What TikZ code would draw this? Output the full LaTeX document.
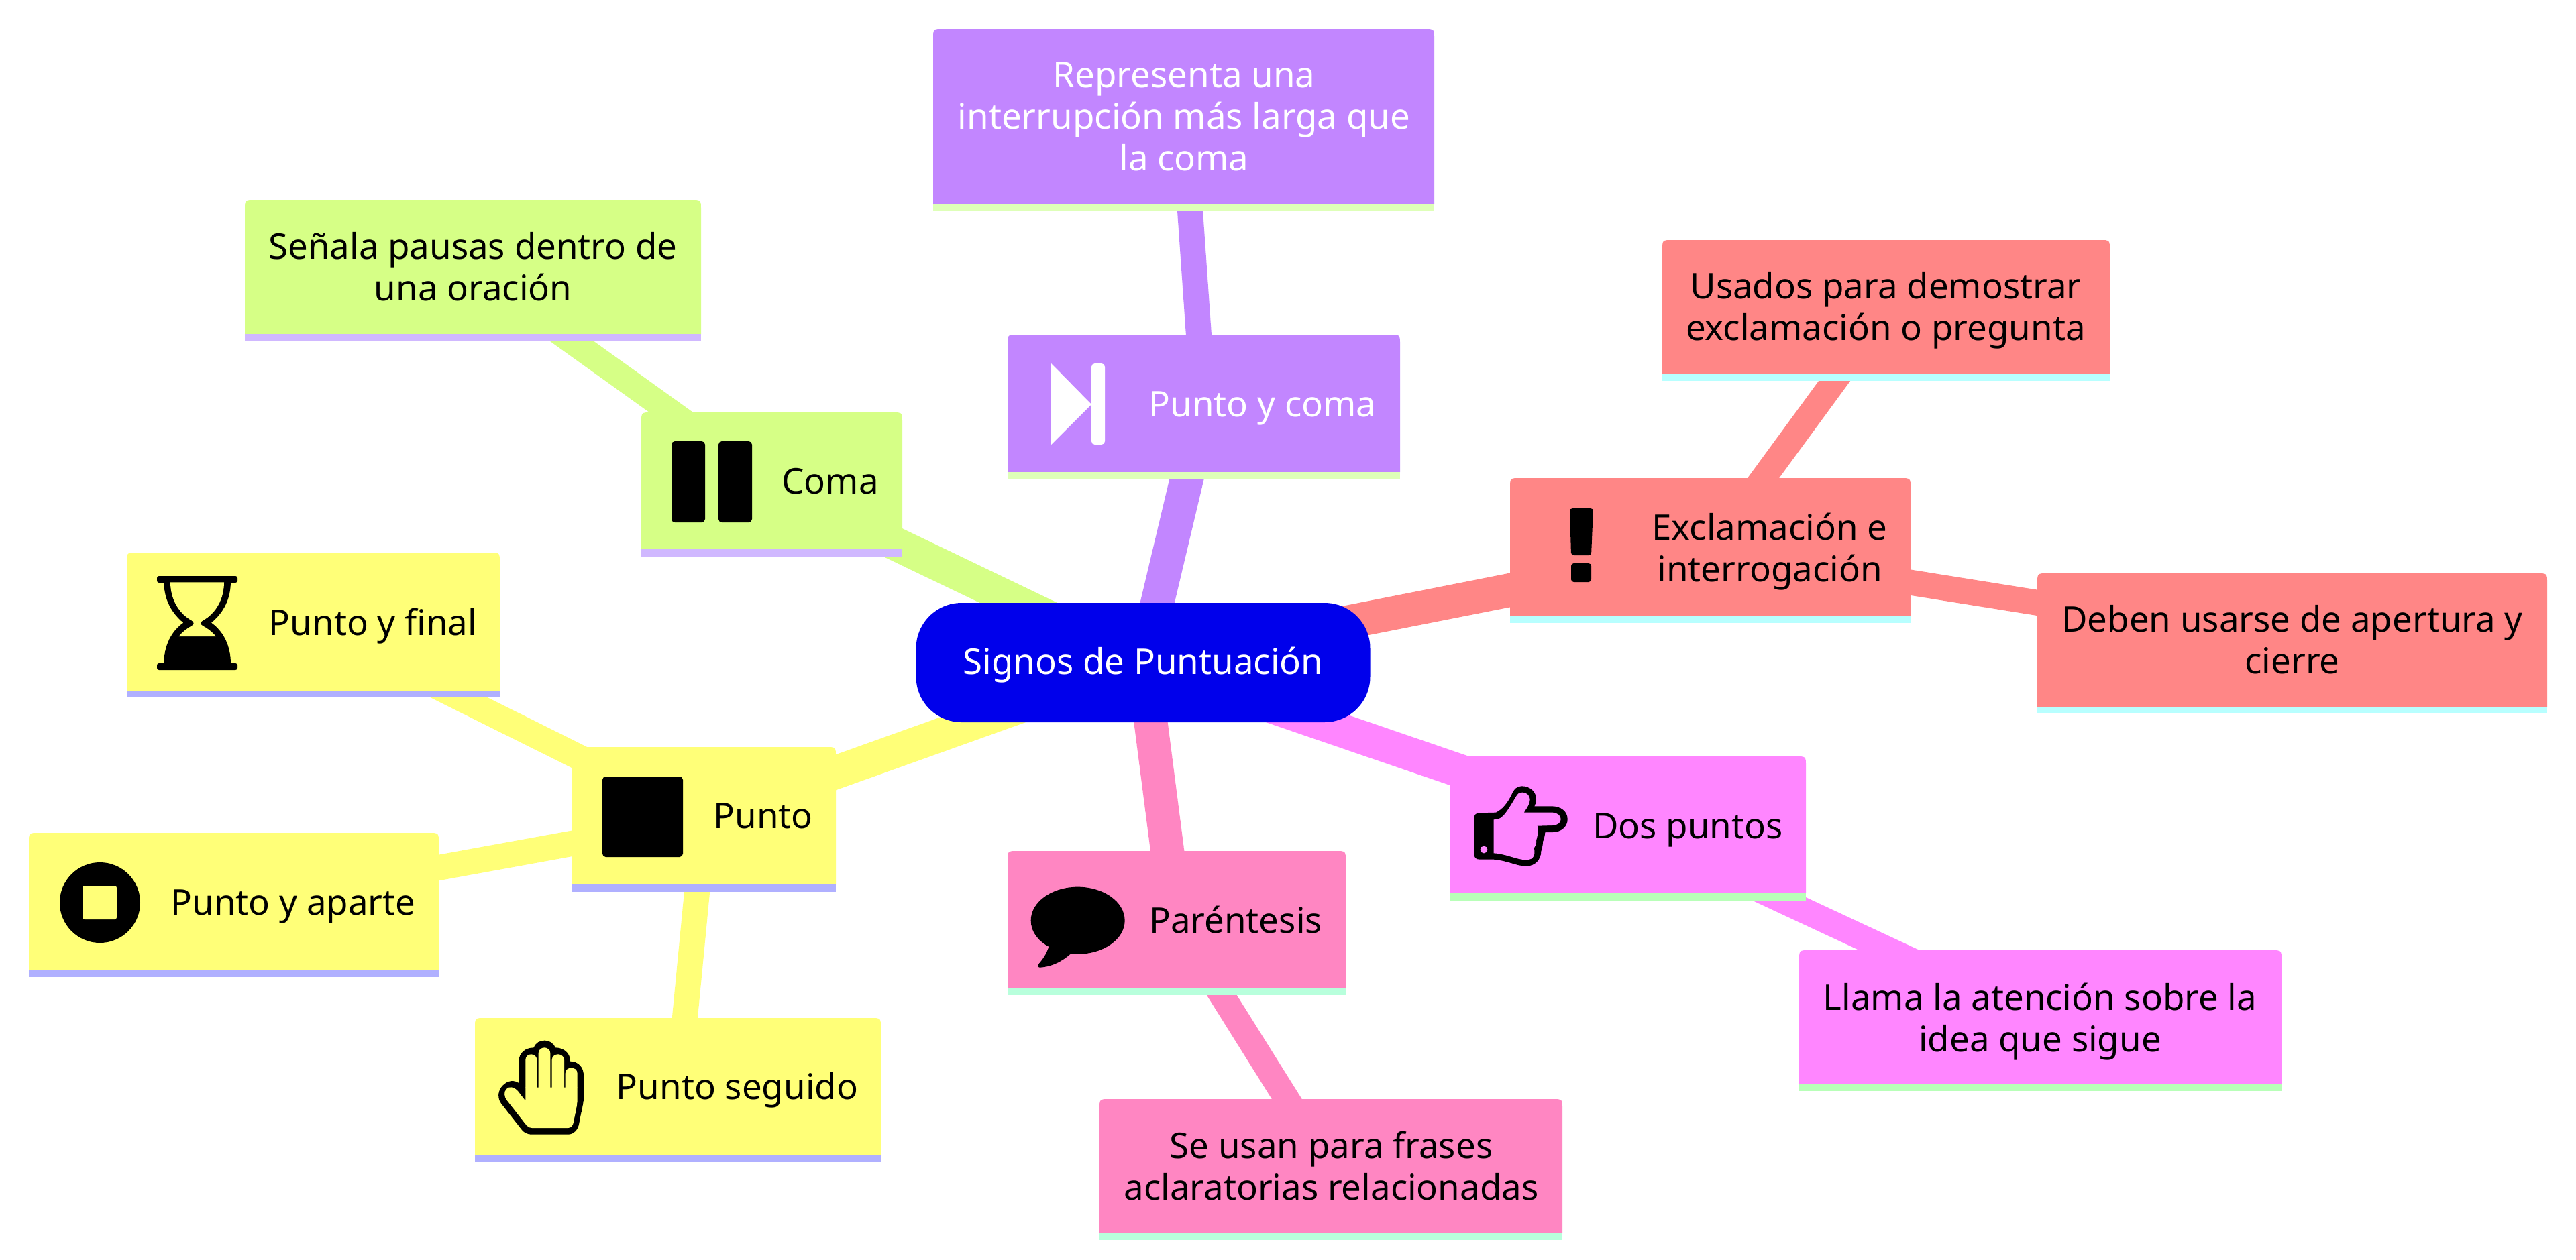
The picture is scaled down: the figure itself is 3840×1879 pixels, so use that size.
\documentclass[tikz,border=0pt]{standalone}
\usepackage{fontspec}
\setmainfont{Noto Sans}
\usetikzlibrary{backgrounds}
\definecolor{rootc}{HTML}{0000EB}
\definecolor{yel}{HTML}{FFFF78}\definecolor{yelb}{HTML}{B0B0FF}
\definecolor{lim}{HTML}{D6FF86}\definecolor{limb}{HTML}{D0B8FF}
\definecolor{pur}{HTML}{C286FF}\definecolor{purb}{HTML}{DEFFB8}
\definecolor{red}{HTML}{FF8686}\definecolor{redb}{HTML}{B8FFFF}
\definecolor{mag}{HTML}{FF86FF}\definecolor{magb}{HTML}{B8FFB8}
\definecolor{pnk}{HTML}{FF86C2}\definecolor{pnkb}{HTML}{B8FFDC}
\tikzset{
  frame/.style={inner sep=0pt,outer sep=0pt,draw=none,fill=none},
  lbl/.style={inner sep=0pt,outer sep=0pt,anchor=base,align=center,font=\fontsize{26.4}{31}\selectfont},
  rootnode/.style={fill=rootc,rounded corners=34pt,inner sep=0pt,minimum width=338.5pt,minimum height=89pt,
    text=white,font=\fontsize{26.4}{31}\selectfont,text height=24pt,text depth=7pt},
  edgeone/.style={line width=25pt},
  edgetwo/.style={line width=19pt},
  zoomed/.style={shift={(#1)},x=0.16667pt,y=-0.16667pt},
}
% name, x1, y1, x2, y2 (bottom of the fill), y3 (bottom of the band), colour family
\newcommand\mmbox[7]{%
  \pgfmathsetmacro\mmw{(#4-#2)/2}%
  \pgfmathsetmacro\mmh{(#6-#3)/2}%
  \pgfmathsetmacro\mmcx{(#2+#4)/2}%
  \pgfmathsetmacro\mmcy{(#3+#6)/2}%
  \pgfmathsetmacro\mmla{#2+15}\pgfmathsetmacro\mmra{#4-15}\pgfmathsetmacro\mmya{#3+15}%
  \fill[#7] (#2,#5) -- (#2,\mmya) .. controls (#2,#3) .. (\mmla,#3) -- (\mmra,#3) .. controls (#4,#3) .. (#4,\mmya) -- (#4,#5) -- cycle;
  \fill[#7b] (#2,#5) rectangle (#4,#6);
  \node[frame,minimum width=\mmw pt,minimum height=\mmh pt] (#1) at (\mmcx,\mmcy) {};
}
\begin{document}
\begin{tikzpicture}[x=0.5pt,y=-0.5pt]
\useasboundingbox (0,0) rectangle (3840,1879);
\node[rootnode] (root) at (1704,988) {Signos de Puntuación};
\mmbox{punto}{853}{1114}{1246}{1319}{1330}{yel}
\mmbox{final}{189}{824}{745}{1030}{1040}{yel}
\mmbox{aparte}{43}{1242}{654}{1447}{1457}{yel}
\mmbox{seguido}{708}{1518}{1313}{1723}{1733}{yel}
\mmbox{coma}{956}{615}{1345}{819}{830}{lim}
\mmbox{senala}{365}{298}{1045}{498}{508}{lim}
\mmbox{pyc}{1502}{499}{2087}{704}{715}{pur}
\mmbox{repr}{1391}{43}{2138}{304}{314}{pur}
\mmbox{excl}{2251}{713}{2848}{918}{929}{red}
\mmbox{usados}{2478}{358}{3145}{557}{568}{red}
\mmbox{deben}{3037}{855}{3797}{1054}{1064}{red}
\mmbox{dos}{2162}{1128}{2692}{1332}{1343}{mag}
\mmbox{llama}{2682}{1417}{3401}{1617}{1627}{mag}
\mmbox{paren}{1502}{1269}{2006}{1474}{1484}{pnk}
\mmbox{frases}{1639}{1639}{2329}{1839}{1849}{pnk}
\begin{pgfonlayer}{background}
\draw[edgeone,yel] (root.center) -- (punto.center);
\draw[edgeone,lim] (root.center) -- (coma.center);
\draw[edgeone,pur] (root.center) -- (pyc.center);
\draw[edgeone,red] (root.center) -- (excl.center);
\draw[edgeone,mag] (root.center) -- (dos.center);
\draw[edgeone,pnk] (root.center) -- (paren.center);
\draw[edgetwo,yel] (punto.center) -- (final.center);
\draw[edgetwo,yel] (punto.center) -- (aparte.center);
\draw[edgetwo,yel] (punto.center) -- (seguido.center);
\draw[edgetwo,lim] (coma.center) -- (senala.center);
\draw[edgetwo,pur] (pyc.center) -- (repr.center);
\draw[edgetwo,red] (excl.center) -- (usados.center);
\draw[edgetwo,red] (excl.center) -- (deben.center);
\draw[edgetwo,mag] (dos.center) -- (llama.center);
\draw[edgetwo,pnk] (paren.center) -- (frases.center);
\end{pgfonlayer}
% labels (anchor base: the baseline of the last line)
\node[lbl] (tpunto) at (1137.6,1235) {Punto};
\node[lbl] (tfinal) at (556,947) {Punto y final};
\node[lbl] (taparte) at (437,1364) {Punto y aparte};
\node[lbl] (tseguido) at (1099,1639) {Punto seguido};
\node[lbl] (tcoma) at (1237.6,736) {Coma};
\node[lbl] (tsenala) at (705,448) {Señala pausas dentro de\\una oración};
\node[lbl,text=white] (tpyc) at (1882,621) {Punto y coma};
\node[lbl,text=white] (trepr) at (1765,254.5) {Representa una\\interrupción más larga que\\la coma};
\node[lbl] (texcl) at (2638,867) {Exclamación e\\interrogación};
\node[lbl] (tusados) at (2811,507) {Usados para demostrar\\exclamación o pregunta};
\node[lbl] (tdeben) at (3417,1004) {Deben usarse de apertura y\\cierre};
\node[lbl] (tdos) at (2516,1250) {Dos puntos};
\node[lbl] (tllama) at (3041,1568) {Llama la atención sobre la\\idea que sigue};
\node[lbl] (tparen) at (1842,1391) {Paréntesis};
\node[lbl] (tfrases) at (1984.5,1789) {Se usan para frases\\aclaratorias relacionadas};
% icon: stop
\fill[black,rounded corners=2.5pt] (898,1158) rectangle (1018,1278);
% icon: stop circle
\fill[black] (149,1346) circle[radius=30pt];
\fill[yel,rounded corners=1.5pt] (123,1321) rectangle (174,1371);
% icon: pause
\fill[black,rounded corners=2.5pt] (1001,658) rectangle (1051,779);
\fill[black,rounded corners=2.5pt] (1071,658) rectangle (1121,779);
% icon: step forward
\fill[white] (1567,542) -- (1627,603) -- (1567,663) -- cycle;
\fill[white,rounded corners=2.5pt] (1627,542) rectangle (1647,663);
% icon: exclamation
\fill[black,rounded corners=2pt] (2340,758) -- (2375,758) -- (2372,828) -- (2342,828) -- cycle;
\fill[black,rounded corners=2pt] (2342,840) rectangle (2372,868);
% icon: hourglass
\begin{scope}[zoomed={225,850}]
\fill[black,rounded corners=1.5pt] (27,27) rectangle (387,57);
\fill[black,rounded corners=1.5pt] (27,417) rectangle (387,447);
\fill[black] (58,50) .. controls (58,130) and (90,190) .. (145,236) .. controls (90,275) and (58,340) .. (58,420) -- (357,420) .. controls (357,340) and (325,275) .. (270,236) .. controls (325,190) and (357,130) .. (357,50) -- cycle;
\fill[yel] (87,55) .. controls (87,130) and (125,195) .. (182,226) .. controls (194,232) and (194,244) .. (182,250) .. controls (160,262) and (140,278) .. (125,297) -- (290,297) .. controls (275,278) and (255,262) .. (232,250) .. controls (220,244) and (220,232) .. (232,226) .. controls (290,195) and (327,130) .. (327,55) -- cycle;
\end{scope}
% icon: hand
\begin{scope}[zoomed={730,1540}]
\fill[black] (130,130) .. controls (130,90) and (160,67) .. (197,67) .. controls (205,45) and (225,35) .. (245,35) .. controls (265,35) and (285,45) .. (293,67) .. controls (330,67) and (360,90) .. (360,128) .. controls (395,128) and (420,155) .. (420,190) -- (420,300) .. controls (415,340) and (405,370) .. (400,405) .. controls (395,435) and (375,455) .. (350,455) -- (190,455) .. controls (165,455) and (150,445) .. (140,430) -- (50,315) .. controls (30,285) and (40,250) .. (65,230) .. controls (90,210) and (115,215) .. (130,225) -- cycle;
\fill[yel] (160,305) -- (125,260) .. controls (105,240) and (85,240) .. (75,252) .. controls (62,265) and (65,285) .. (75,300) -- (165,415) .. controls (172,423) and (180,426) .. (190,426) -- (350,426) .. controls (365,426) and (372,415) .. (375,400) .. controls (380,370) and (392,330) .. (392,295) -- (392,245) -- (160,245) -- cycle;
\foreach \xa/\xb/\yt in {160/211/97,218/271/67,278/333/97,338/392/157}{
  \pgfmathsetmacro\xm{(\xa+\xb)/2}\pgfmathsetmacro\ys{\yt+25}
  \fill[yel] (\xa,247) -- (\xa,\ys) .. controls (\xa,\yt+8) and (\xm-12,\yt) .. (\xm,\yt) .. controls (\xm+12,\yt) and (\xb,\yt+8) .. (\xb,\ys) -- (\xb,247) -- cycle;
}
\end{scope}
% icon: pointing hand
\begin{scope}[zoomed={2190,1160}]
\fill[black] (22,180) .. controls (22,165) and (32,157) .. (45,157) -- (120,155) .. controls (150,140) and (170,115) .. (190,75) .. controls (200,50) and (215,37) .. (235,37) .. controls (275,37) and (300,65) .. (300,95) .. controls (300,107) and (297,118) .. (292,127) -- (370,127) .. controls (410,127) and (440,150) .. (440,185) .. controls (440,220) and (410,243) .. (375,243) -- (340,243) .. controls (338,260) and (335,275) .. (330,285) .. controls (330,300) and (325,320) .. (322,328) .. controls (322,365) and (295,395) .. (255,395) .. controls (215,395) and (170,370) .. (110,365) -- (45,365) .. controls (30,365) and (22,355) .. (22,340) -- cycle;
\fill[mag] (110,187) -- (120,186) .. controls (150,185) and (170,150) .. (215,75) .. controls (222,67) and (230,65) .. (238,65) .. controls (258,65) and (272,80) .. (272,97) .. controls (272,115) and (258,135) .. (245,155) -- (372,155) .. controls (395,155) and (410,170) .. (410,185) .. controls (410,200) and (395,213) .. (372,213) -- (305,215) .. controls (310,240) and (305,265) .. (300,280) .. controls (302,295) and (295,305) .. (290,315) .. controls (295,335) and (295,367) .. (255,367) .. controls (215,367) and (165,340) .. (110,337) -- cycle;
\fill[mag] (66,321) circle[radius=2.7pt];
\end{scope}
% icon: speech bubble
\begin{scope}[zoomed={1525,1310}]
\fill[black] (245,38) .. controls (361,38) and (455,105) .. (455,188) .. controls (455,271) and (361,338) .. (245,338) .. controls (233,338) and (222,338) .. (212,338) .. controls (175,370) and (130,395) .. (75,398) .. controls (65,397) and (65,388) .. (68,385) .. controls (85,365) and (105,340) .. (115,305) .. controls (65,278) and (35,235) .. (35,188) .. controls (35,105) and (129,38) .. (245,38) -- cycle;
\end{scope}
\end{tikzpicture}
\end{document}
